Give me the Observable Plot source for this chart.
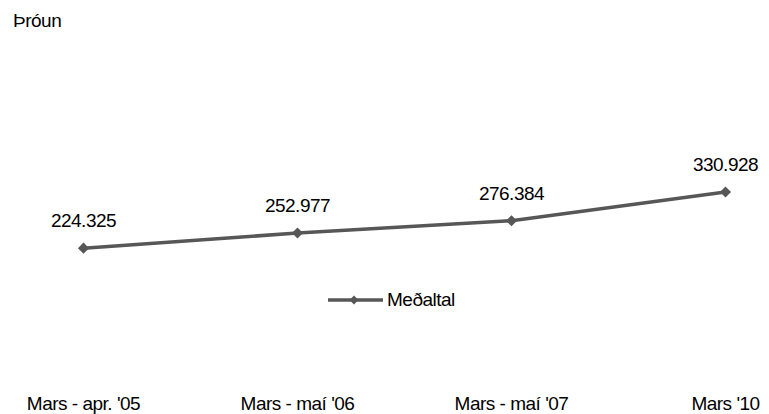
<!DOCTYPE html>
<html><head><meta charset="utf-8">
<script src="https://cdn.jsdelivr.net/npm/d3@7"></script>
<script src="https://cdn.jsdelivr.net/npm/@observablehq/plot@0.6"></script>
<style>
body{margin:0;background:#fff;}
#wrap{position:relative;width:769px;height:414px;font-family:"Liberation Sans Narrow","Arial Narrow","Liberation Sans",sans-serif;color:#000;}
#title{position:absolute;left:13px;top:9px;font-size:19px;line-height:24px;letter-spacing:-0.5px;}
#legend{position:absolute;left:328px;top:288px;font-size:19px;line-height:24px;letter-spacing:-0.5px;display:flex;align-items:center;}
#chart{position:absolute;left:0;top:0;}
#chart text{letter-spacing:-0.5px;}
</style></head><body>
<div id="wrap"><div id="chart"></div><div id="title"></div><div id="legend"></div></div>
<script>
const title = "Þróun";
const seriesName = "Meðaltal";
const periods = ["Mars - apr. '05", "Mars - maí '06", "Mars - maí '07", "Mars '10"];
const values = [224325, 252977, 276384, 330928];
const lineColor = "#575757";
const fontFamily = '"Liberation Sans Narrow","Arial Narrow","Liberation Sans",sans-serif';

const fmt = d3.formatLocale({decimal: ",", thousands: ".", grouping: [3], currency: ["", ""]}).format(",d");
const data = periods.map((p, i) => ({period: p, value: values[i]}));

const chart = Plot.plot({
  width: 769,
  height: 414,
  marginLeft: 82,
  marginRight: 44,
  marginTop: 155,
  marginBottom: 48,
  style: {fontFamily, fontSize: "19px", color: "#000", background: "transparent"},
  x: {type: "point", domain: periods, padding: 0, label: null},
  y: {domain: [0, 400000], axis: null},
  marks: [
    Plot.axisX({tickSize: 0, tickPadding: 30, label: null, fontSize: 19}),
    Plot.line(data, {x: "period", y: "value", stroke: lineColor, strokeWidth: 3.5}),
    Plot.dot(data, {x: "period", y: "value", symbol: "diamond2", r: 5, fill: lineColor, stroke: "none"}),
    Plot.text(data, {x: "period", y: "value", text: d => fmt(d.value), dy: -27, fontSize: 19, fill: "#000"})
  ]
});
document.getElementById("chart").appendChild(chart);
document.getElementById("title").textContent = title;

const legend = document.getElementById("legend");
const sw = d3.create("svg").attr("width", 58).attr("height", 24);
sw.append("line").attr("x1", 0).attr("x2", 55).attr("y1", 12).attr("y2", 12).attr("stroke", lineColor).attr("stroke-width", 3.5);
sw.append("path").attr("d", d3.symbol(d3.symbolDiamond2, 50)()).attr("transform", "translate(26,12)").attr("fill", lineColor);
legend.appendChild(sw.node());
const lt = document.createElement("span");
lt.textContent = seriesName;
lt.style.marginLeft = "1px";
legend.appendChild(lt);
</script>
</body></html>
